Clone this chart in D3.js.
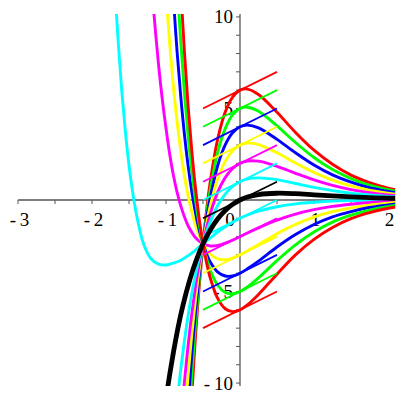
<!DOCTYPE html>
<html>
<head>
<meta charset="utf-8">
<script src="https://d3js.org/d3.v7.min.js"></script>
<style>
	body { margin: 0; background: #fff; }
	.label { font-family: "Liberation Serif", "Times New Roman", serif; font-size: 19px; fill: #000; }
</style>
</head>
<body>
<div class="svg-container"></div>
<script>
// page size
var pageWidth = 400,
	pageHeight = 400;

var minX = -3,
	maxX = 2.1,
	minY = -10.16,
	maxY = 10.16;

// tick positions and labels
var xTicks = [-3, -2.5, -2, -1.5, -1, -0.5, 0.5, 1, 1.5, 2];
var xLabels = [-3, -2, -1, 0, 1, 2];
var yTicks = [-10, -9, -8, -7, -6, -5, -4, -3, -2, -1, 1, 2, 3, 4, 5, 6, 7, 8, 9, 10];
var yLabels = [-10, -5, 5, 10];

// solution curves, y(0) = 6 ... -6
var solP6 = [[-0.645,-10.24],[-0.62,-8.6],[-0.6,-7.37],[-0.55,-4.66],[-0.5,-2.39],[-0.45,-0.5],[-0.4,1.05],[-0.3,3.35],[-0.2,4.8],[-0.1,5.62],[0,6],[0.1,6.06],[0.25,5.76],[0.5,4.79],[0.75,3.69],[1,2.72],[1.25,1.95],[1.5,1.36],[1.75,0.95],[2,0.65],[2.1,0.56]];
var solP5 = [[-0.67,-10.74],[-0.65,-9.49],[-0.6,-6.71],[-0.55,-4.36],[-0.5,-2.39],[-0.45,-0.75],[-0.4,0.61],[-0.3,2.63],[-0.2,3.9],[-0.1,4.65],[0,5],[0.1,5.07],[0.25,4.85],[0.5,4.05],[0.75,3.14],[1,2.32],[1.25,1.66],[1.5,1.17],[1.75,0.81],[2,0.56],[2.1,0.48]];
var solP4 = [[-0.69,-10.55],[-0.65,-8.38],[-0.6,-6.05],[-0.55,-4.06],[-0.5,-2.39],[-0.45,-1],[-0.4,0.16],[-0.3,1.9],[-0.2,3.01],[-0.1,3.67],[0,4],[0.1,4.09],[0.25,3.94],[0.5,3.31],[0.75,2.58],[1,1.91],[1.25,1.37],[1.5,0.97],[1.75,0.67],[2,0.47],[2.1,0.4]];
var solP3 = [[-0.72,-10.52],[-0.7,-9.53],[-0.65,-7.28],[-0.6,-5.38],[-0.55,-3.76],[-0.5,-2.39],[-0.45,-1.24],[-0.4,-0.29],[-0.3,1.17],[-0.2,2.11],[-0.1,2.69],[0,3],[0.1,3.11],[0.25,3.03],[0.5,2.58],[0.75,2.02],[1,1.5],[1.25,1.09],[1.5,0.77],[1.75,0.54],[2,0.37],[2.1,0.32]];
var solP2 = [[-0.77,-10.79],[-0.75,-9.89],[-0.7,-7.9],[-0.65,-6.18],[-0.6,-4.72],[-0.55,-3.46],[-0.5,-2.39],[-0.45,-1.49],[-0.4,-0.73],[-0.3,0.44],[-0.2,1.22],[-0.1,1.72],[0,2],[0.1,2.13],[0.25,2.12],[0.5,1.84],[0.75,1.46],[1,1.1],[1.25,0.8],[1.5,0.57],[1.75,0.4],[2,0.28],[2.1,0.25]];
var solP1 = [[-0.85,-11.07],[-0.8,-9.23],[-0.75,-7.65],[-0.7,-6.28],[-0.65,-5.08],[-0.6,-4.05],[-0.55,-3.16],[-0.5,-2.39],[-0.45,-1.73],[-0.4,-1.18],[-0.3,-0.29],[-0.2,0.32],[-0.1,0.74],[0,1],[0.1,1.15],[0.25,1.21],[0.5,1.11],[0.75,0.9],[1,0.69],[1.25,0.51],[1.5,0.37],[1.75,0.27],[2,0.19],[2.1,0.17]];
var sol0 = [[-1,-10.86],[-0.95,-9.53],[-0.9,-8.33],[-0.85,-7.24],[-0.8,-6.26],[-0.75,-5.41],[-0.7,-4.66],[-0.65,-3.98],[-0.6,-3.39],[-0.55,-2.86],[-0.5,-2.39],[-0.4,-1.62],[-0.3,-1.02],[-0.2,-0.57],[-0.1,-0.24],[0,0],[0.1,0.16],[0.25,0.3],[0.5,0.37],[0.75,0.345],[1,0.285],[1.25,0.225],[1.5,0.17],[1.75,0.13],[2,0.1],[2.1,0.09]];
var solM1 = [[-1.7,12.3],[-1.65,8.9],[-1.6,6.07],[-1.55,3.78],[-1.5,1.9],[-1.45,0.41],[-1.4,-0.78],[-1.3,-2.43],[-1.2,-3.22],[-1.1,-3.5],[-1,-3.55],[-0.9,-3.45],[-0.8,-3.29],[-0.7,-3.04],[-0.6,-2.73],[-0.5,-2.39],[-0.4,-2.07],[-0.3,-1.75],[-0.2,-1.47],[-0.1,-1.22],[0,-1],[0.1,-0.82],[0.25,-0.61],[0.5,-0.37],[0.75,-0.21],[1,-0.12],[1.25,-0.06],[1.5,-0.03],[1.75,-0.01],[2,0.01],[2.1,0.01]];
var solM2 = [[-1.2,12.21],[-1.16,10.05],[-1.1,7.36],[-1.05,5.49],[-1,3.92],[-0.95,2.5],[-0.9,1.35],[-0.85,0.42],[-0.8,-0.32],[-0.75,-0.93],[-0.7,-1.42],[-0.6,-2.06],[-0.5,-2.39],[-0.4,-2.51],[-0.3,-2.48],[-0.2,-2.36],[-0.1,-2.19],[0,-2],[0.1,-1.8],[0.25,-1.52],[0.5,-1.1],[0.75,-0.77],[1,-0.53],[1.25,-0.35],[1.5,-0.23],[1.75,-0.14],[2,-0.08],[2.1,-0.07]];
var solM3 = [[-1,11.31],[-0.95,8.52],[-0.9,6.19],[-0.85,4.26],[-0.8,2.66],[-0.75,1.31],[-0.7,0.21],[-0.65,-0.68],[-0.6,-1.4],[-0.55,-1.96],[-0.5,-2.39],[-0.4,-2.96],[-0.3,-3.21],[-0.2,-3.26],[-0.1,-3.17],[0,-3],[0.1,-2.78],[0.25,-2.43],[0.5,-1.84],[0.75,-1.33],[1,-0.93],[1.25,-0.64],[1.5,-0.43],[1.75,-0.28],[2,-0.18],[2.1,-0.14]];
var solM4 = [[-0.9,11.03],[-0.85,8.09],[-0.8,5.63],[-0.75,3.55],[-0.7,1.83],[-0.65,0.42],[-0.6,-0.73],[-0.55,-1.66],[-0.5,-2.39],[-0.45,-2.96],[-0.4,-3.4],[-0.3,-3.94],[-0.2,-4.15],[-0.1,-4.15],[0,-4],[0.1,-3.76],[0.25,-3.34],[0.5,-2.57],[0.75,-1.89],[1,-1.34],[1.25,-0.92],[1.5,-0.63],[1.75,-0.41],[2,-0.27],[2.1,-0.22]];
var solM5 = [[-0.85,11.92],[-0.8,8.6],[-0.75,5.8],[-0.7,3.45],[-0.65,1.53],[-0.6,-0.07],[-0.55,-1.36],[-0.5,-2.39],[-0.45,-3.21],[-0.4,-3.85],[-0.3,-4.67],[-0.2,-5.05],[-0.1,-5.12],[0,-5],[0.1,-4.75],[0.25,-4.25],[0.5,-3.31],[0.75,-2.45],[1,-1.75],[1.25,-1.21],[1.5,-0.83],[1.75,-0.55],[2,-0.36],[2.1,-0.3]];
var solM6 = [[-0.8,11.57],[-0.75,8.04],[-0.7,5.07],[-0.65,2.63],[-0.6,0.59],[-0.55,-1.06],[-0.5,-2.39],[-0.45,-3.46],[-0.4,-4.29],[-0.3,-5.39],[-0.2,-5.94],[-0.1,-6.1],[0,-6],[0.1,-5.73],[0.25,-5.16],[0.5,-4.05],[0.75,-3],[1,-2.15],[1.25,-1.5],[1.5,-1.02],[1.75,-0.69],[2,-0.45],[2.1,-0.38]];

// tangent segments at x = 0 (from x = -0.5 to x = 0.5)
var segX = [-0.5, 0.5];
var segY = [[5,7],[4,6],[3,5],[2,4],[1,3],[0,2],[-1,1],[-2,0],[-3,-1],[-4,-2],[-5,-3],[-6,-4],[-7,-5]];

var curveList = [solP6, solP5, solP4, solP3, solP2, solP1, solM1, solM2, solM3, solM4, solM5, solM6];
var colorList = ["#ff0000", "#00ff00", "#0000ff", "#ffff00", "#ff00ff", "#00ffff",
	"#00ffff", "#ff00ff", "#ffff00", "#0000ff", "#00ff00", "#ff0000"];
var segColors = ["#ff0000", "#00ff00", "#0000ff", "#ffff00", "#ff00ff", "#00ffff", "#000000",
	"#00ffff", "#ff00ff", "#ffff00", "#0000ff", "#00ff00", "#ff0000"];


function plot() {
	var svg = d3.select(".svg-container")
	.append("svg")
	.attr("width", pageWidth)
	.attr("height", pageHeight);

	var xScale = d3.scaleLinear().domain([minX, maxX]).range([18, 395.4]);
	var yScale = d3.scaleLinear().domain([minY, maxY]).range([386, 14]);

	// clip everything to the view box
	svg.append("clipPath")
	.attr("id", "box")
	.append("rect")
	.attr("x", xScale(minX))
	.attr("y", yScale(maxY))
	.attr("width", xScale(maxX) - xScale(minX))
	.attr("height", yScale(minY) - yScale(maxY));

	drawAxes(svg, xScale, yScale);

	var g = svg.append("g").attr("clip-path", "url(#box)");

	var line = d3.line()
	.x(function(d) { return xScale(d[0]); })
	.y(function(d) { return yScale(d[1]); })
	.curve(d3.curveCatmullRom.alpha(0.5));

	for (var i = 0; i < curveList.length; i++) {
		g.append("path")
		.datum(curveList[i])
		.attr("fill", "none")
		.attr("stroke", colorList[i])
		.attr("stroke-width", 2.9)
		.attr("d", line);
	}

	// tangent lines
	for (var j = 0; j < segY.length; j++) {
		g.append("line")
		.attr("x1", xScale(segX[0]))
		.attr("x2", xScale(segX[1]))
		.attr("y1", yScale(segY[j][0]))
		.attr("y2", yScale(segY[j][1]))
		.attr("stroke", segColors[j])
		.attr("stroke-width", 1.8);
	}

	// black solution on top
	g.append("path")
	.datum(sol0)
	.attr("fill", "none")
	.attr("stroke", "#000")
	.attr("stroke-width", 4.8)
	.attr("d", line);
}


function drawAxes(svg, x, y) {
	var axisColor = "#555";

	// x-axis
	svg.append("line")
	.attr("x1", x(minX)).attr("x2", x(maxX))
	.attr("y1", y(0)).attr("y2", y(0))
	.attr("stroke", axisColor).attr("stroke-width", 1.3);

	svg.selectAll(".xtick").data(xTicks)
	.enter().append("line")
	.attr("x1", function(d) { return x(d); })
	.attr("x2", function(d) { return x(d); })
	.attr("y1", y(0)).attr("y2", y(0) + 4)
	.attr("stroke", axisColor).attr("stroke-width", 1);

	// y-axis
	svg.append("line")
	.attr("x1", x(0)).attr("x2", x(0))
	.attr("y1", y(maxY)).attr("y2", y(minY))
	.attr("stroke", axisColor).attr("stroke-width", 1.3);

	svg.selectAll(".ytick").data(yTicks)
	.enter().append("line")
	.attr("x1", x(0) - 4).attr("x2", x(0))
	.attr("y1", function(d) { return y(d); })
	.attr("y2", function(d) { return y(d); })
	.attr("stroke", axisColor).attr("stroke-width", 1);

	svg.selectAll(".xlab").data(xLabels)
	.enter().append("text")
	.attr("class", "label")
	.attr("x", function(d) { return d == 0 ? x(d) - 10 : x(d) + 1.5; })
	.attr("y", y(0) + 26)
	.attr("text-anchor", "middle")
	.text(function(d) { return fmt(d); });

	svg.selectAll(".ylab").data(yLabels)
	.enter().append("text")
	.attr("class", "label")
	.attr("x", x(0) - 7)
	.attr("y", function(d) { return y(d) + 6.5; })
	.attr("text-anchor", "end")
	.text(function(d) { return fmt(d); });
}

function fmt(v) {
	// Maple style negative labels: "- 3"
	return v < 0 ? "-\u2009" + Math.abs(v) : "" + v;
}

plot();
</script>
</body>
</html>
